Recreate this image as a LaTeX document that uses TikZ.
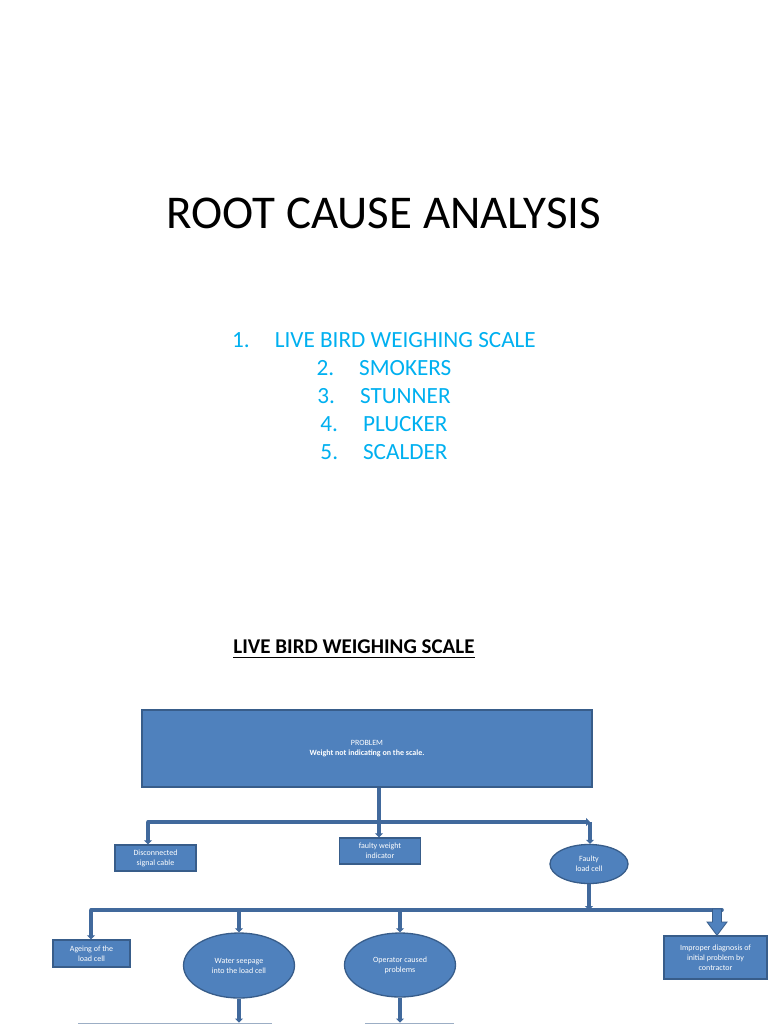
\documentclass[tikz,border=0pt]{standalone}
\usepackage{fontspec}
\setmainfont{Carlito}
\usetikzlibrary{arrows.meta,shapes.geometric,calc}
\definecolor{boxfill}{HTML}{4F81BD}
\definecolor{boxline}{HTML}{385D8A}
\definecolor{conn}{HTML}{41699C}
\definecolor{listcol}{HTML}{00B0F0}
\tikzset{
  shapetext/.style={text=white,font=\fontsize{8}{10}\selectfont,align=center,inner sep=0pt},
  bluebox/.style={shapetext,rectangle,fill=boxfill,draw=boxline,line width=1.3pt},
  blueell/.style={shapetext,ellipse,fill=boxfill,draw=boxline,line width=1.3pt},
  link/.style={draw=conn,line width=3.6pt},
  linkarrow/.style={link,-{Triangle[length=4pt,width=8pt]}},
  listline/.style={anchor=base,text=listcol,font=\fontsize{23.2}{26}\selectfont,inner sep=0pt}
}
\begin{document}
\begin{tikzpicture}[x=1pt,y=-1pt]
\useasboundingbox[fill=white] (0,0) rectangle (768,1024);

% title and list
\node[anchor=base,inner sep=0pt,font=\fontsize{47}{52}\selectfont] (title) at (384,229) {ROOT CAUSE ANALYSIS};
\node[listline] (l1) at (384,347) {1.\hspace{25pt}LIVE BIRD WEIGHING SCALE};
\node[listline] (l2) at (384,375.2) {2.\hspace{25pt}SMOKERS};
\node[listline] (l3) at (384,403.4) {3.\hspace{25pt}STUNNER};
\node[listline] (l4) at (384,431.6) {4.\hspace{25pt}PLUCKER};
\node[listline] (l5) at (384,459.8) {5.\hspace{25pt}SCALDER};

\node[anchor=base,inner sep=0pt,font=\fontsize{21}{24}\selectfont\bfseries] (head) at (354,653) {LIVE BIRD WEIGHING SCALE};
\draw[line width=1.2pt] ($(head.base west)+(0,4.5)$) -- ($(head.base east)+(0,4.5)$);

% nodes
\node[bluebox,minimum width=450,minimum height=77] (prob) at (367,748.5)
  {PROBLEM\\\bfseries Weight not indicating on the scale.};
\node[bluebox,minimum width=81,minimum height=26] (dsc) at (155.5,858) {Disconnected\\signal cable};
\node[bluebox,minimum width=81,minimum height=26] (fwi) at (380,851) {faulty weight\\indicator};
\node[blueell,minimum width=78,minimum height=39] (flc) at (589,864) {Faulty\\load cell};
\node[bluebox,minimum width=77,minimum height=27] (age) at (91.5,953.5) {Ageing of the\\load cell};
\node[blueell,minimum width=111,minimum height=65] (wat) at (239,965.5) {Water seepage\\into the load cell};
\node[blueell,minimum width=111,minimum height=64] (opr) at (400,965) {Operator caused\\problems};
\node[bluebox,minimum width=103,minimum height=43] (imp) at (715.5,957.5) {Improper diagnosis of\\initial problem by\\contractor};
\node[rectangle,fill=boxfill!60!white,draw=boxline!50!white,line width=0.6pt,minimum width=193,minimum height=40,anchor=north west] (cut1) at (78,1022.6) {};
\node[rectangle,fill=boxfill!60!white,draw=boxline!50!white,line width=0.6pt,minimum width=88,minimum height=40,anchor=north west] (cut2) at (365,1022.6) {};

% junctions
\coordinate (j0) at (379,822);
\coordinate (b1L) at (148,822);
\coordinate (b1R) at (590,822);
\coordinate (b2L) at (91,910);
\coordinate (b2R) at (722,910);
\coordinate (jb) at (717,910);

% first level
\draw[link] (prob.south -| j0) -- (j0);
\draw[linkarrow] (j0) -- (j0 |- fwi.north);
\draw[link,line cap=round] (b1L) -- (j0);
\draw[linkarrow] (j0) -- (b1R);
\draw[linkarrow] (b1L) -- (b1L |- dsc.north);
\draw[linkarrow] (b1R) -- (b1R |- flc.north);

% second level
\draw[linkarrow] (flc.south) -- (flc.south |- b2L);
\draw[link,line cap=round] (b2L) -- (b2R);
\draw[linkarrow] (b2L) -- (b2L |- age.north);
\draw[linkarrow] (wat.north |- b2L) -- (wat.north);
\draw[linkarrow] (opr.north |- b2L) -- (opr.north);
\filldraw[fill=boxfill,draw=boxline,line width=0.8pt]
  ($(jb)+(-4.5,-1)$) -- ($(jb)+(4.5,-1)$) -- ($(jb)+(4.5,12)$) -- ($(jb)+(10,12)$)
  -- (jb |- imp.north) -- ($(jb)+(-10,12)$) -- ($(jb)+(-4.5,12)$) -- cycle;

% third level
\draw[linkarrow] (wat.south) -- (wat.south |- cut1.north);
\draw[linkarrow] (opr.south) -- (opr.south |- cut2.north);
\end{tikzpicture}
\end{document}
